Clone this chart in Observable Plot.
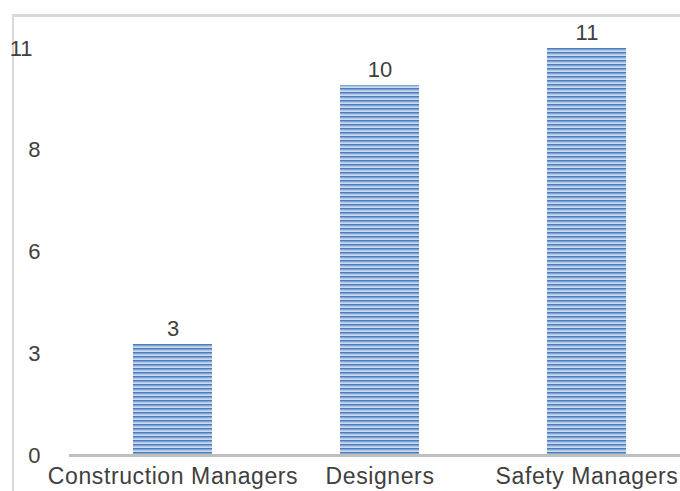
<!DOCTYPE html>
<html>
<head>
<meta charset="utf-8">
<script src="https://cdn.jsdelivr.net/npm/d3@7"></script>
<script src="https://cdn.jsdelivr.net/npm/@observablehq/plot@0.6"></script>
<style>
  html, body { margin: 0; padding: 0; background: #fff; overflow: hidden; }
  #wrap { position: relative; width: 680px; height: 491px; overflow: hidden; }
  #frame { position: absolute; left: 12px; top: 14px; right: -10px; bottom: -10px;
           border-top: 3px solid #d9d9d9; border-left: 2px solid #d9d9d9; }
  #chart { position: absolute; left: 0; top: 0; width: 700px; }
  #chart svg { max-width: none !important; }
  #chart g[aria-label="x-axis tick label"] text { letter-spacing: 0.6px; font-size: 23px; }
</style>
</head>
<body>
<div id="wrap"><div id="frame"></div><div id="chart"></div></div>
<script>
const categories = ["Construction Managers", "Designers", "Safety Managers"];
const values = [3, 10, 11];
const yTicks = [0, 2.75, 5.5, 8.25, 11];

const data = categories.map((c, i) => ({category: c, value: values[i]}));

const defs = () => {
  const ns = "http://www.w3.org/2000/svg";
  const d = document.createElementNS(ns, "defs");
  d.innerHTML = `<pattern id="stripes" patternUnits="userSpaceOnUse" width="8" height="4">
      <rect x="0" y="0" width="8" height="4" fill="#cbdaef"/>
      <rect x="0" y="0" width="8" height="1.6" fill="#4a7cbf"/>
      <rect x="0" y="1.6" width="8" height="0.8" fill="#87a9d6"/>
    </pattern>`;
  return d;
};

const font = "'Helvetica Neue', Helvetica, Arial, 'Liberation Sans', sans-serif";
const fmt = d => Math.round(d);

const chart = Plot.plot({
  width: 690,
  height: 491,
  marginLeft: 69,
  marginRight: 0,
  marginTop: 48,
  marginBottom: 36,
  style: {fontFamily: font, fontSize: "22px", color: "#404040", background: "transparent", overflow: "visible", maxWidth: "none"},
  x: {domain: categories, paddingInner: 0.62, paddingOuter: 0.31, label: null, tickSize: 0, tickPadding: 12},
  y: {domain: [0, 11], label: null},
  marks: [
    defs,
    Plot.barY(data, {x: "category", y: "value", fill: "url(#stripes)"}),
    Plot.ruleY([0], {stroke: "#bfbfbf", strokeWidth: 3}),
    Plot.axisY(yTicks.slice(0, -1), {tickFormat: fmt, tickSize: 0, tickPadding: 29, label: null}),
    Plot.axisY(yTicks.slice(-1), {tickFormat: fmt, tickSize: 0, tickPadding: 37, label: null}),
    Plot.text(data, {x: "category", y: "value", text: d => String(d.value), dy: -16, fill: "#404040", fontSize: 22})
  ]
});
document.getElementById("chart").appendChild(chart);
</script>
</body>
</html>
